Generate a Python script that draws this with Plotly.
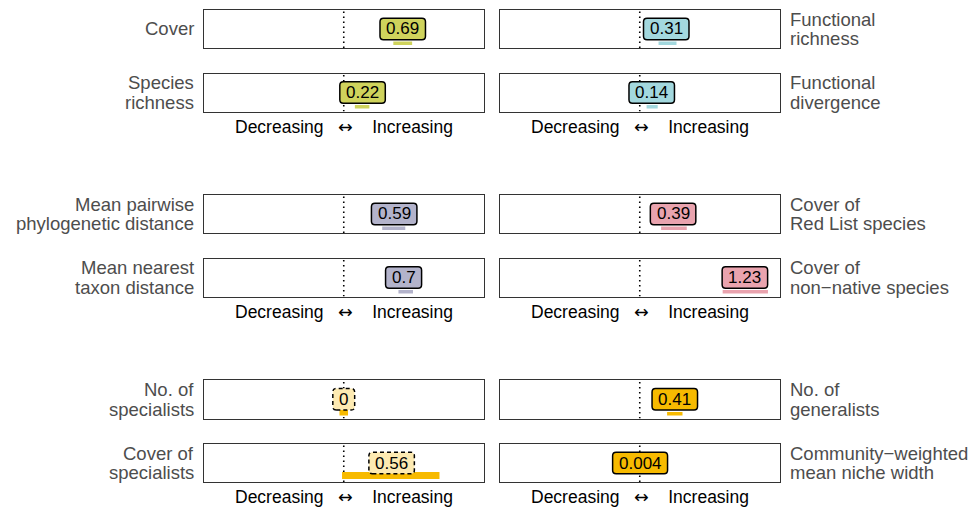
import plotly.graph_objects as go

# ---------------- data ----------------
left_names = ["Cover", "Species\nrichness", "Mean pairwise\nphylogenetic distance",
              "Mean nearest\ntaxon distance", "No. of\nspecialists", "Cover of\nspecialists"]
right_names = ["Functional\nrichness", "Functional\ndivergence", "Cover of\nRed List species",
               "Cover of\nnon\u2212native species", "No. of\ngeneralists",
               "Community\u2212weighted\nmean niche width"]

left_est = [0.69, 0.22, 0.59, 0.7, 0, 0.56]
right_est = [0.31, 0.14, 0.39, 1.23, 0.41, 0.004]

left_lo = [0.58, 0.13, 0.45, 0.64, -0.05, -0.02]
left_hi = [0.80, 0.30, 0.72, 0.81, 0.05, 1.12]
right_lo = [0.22, 0.08, 0.25, 0.97, 0.32, None]
right_hi = [0.43, 0.21, 0.55, 1.50, 0.50, None]

left_sig = [True, True, True, True, False, False]
right_sig = [True, True, True, True, True, True]

axis_title = ("Decreasing\u00a0\u00a0 <span style=\"font-family:DejaVu Sans\">\u2194</span>"
              "\u00a0\u00a0\u00a0 Increasing")

# ---------------- style ----------------
W, H = 972, 507
row_px = [(10, 48), (73.5, 111.5), (195, 233), (258.5, 296.5), (380, 418.5), (444, 482)]
col_px = [(204, 483.5), (500, 779.5)]
XR = [-1.635, 1.635]
left_colors = ["#CFD35C", "#CFD35C", "#B3B3CB", "#B3B3CB", "#F7BA00", "#F7BA00"]
right_colors = ["#A3D8DE", "#A3D8DE", "#E9A3AE", "#E9A3AE", "#F7BA00", "#F7BA00"]
left_bar_top = [6.5, 6.5, 6.5, 6.5, 10, 10]
right_bar_top = [6.5, 6.5, 6.5, 6.5, 6.5, 6.5]
NUM_FONT = 17
LAB_FONT = 18.5
FONT = "Liberation Sans, Arial, sans-serif"


def pale(hexcol, a=0.3):
    h = hexcol.lstrip("#")
    r, g, b = (int(h[i:i + 2], 16) for i in (0, 2, 4))
    return "#%02X%02X%02X" % tuple(round(a * c + (1 - a) * 255) for c in (r, g, b))


def text_w(s, size):
    widths = {".": 0.278}
    return sum(widths.get(ch, 0.556) for ch in s) * size


def rrect(hw, hh, r):
    return (f"M{-hw + r},{-hh} L{hw - r},{-hh} Q{hw},{-hh} {hw},{-hh + r} "
            f"L{hw},{hh - r} Q{hw},{hh} {hw - r},{hh} L{-hw + r},{hh} "
            f"Q{-hw},{hh} {-hw},{hh - r} L{-hw},{-hh + r} Q{-hw},{-hh} {-hw + r},{-hh} Z")


fig = go.Figure()
layout = dict(width=W, height=H, autosize=False, margin=dict(l=0, r=0, t=0, b=0),
              paper_bgcolor="white", plot_bgcolor="white", showlegend=False,
              font=dict(family=FONT))
shapes = []
annotations = []

cols = [
    (left_names, left_est, left_lo, left_hi, left_sig, left_colors, left_bar_top),
    (right_names, right_est, right_lo, right_hi, right_sig, right_colors, right_bar_top),
]

idx = 0
for c, (names, est, lo, hi, sig, colors, bartop) in enumerate(cols):
    x0p, x1p = col_px[c]
    for r in range(6):
        idx += 1
        xa = "x" if idx == 1 else f"x{idx}"
        ya = "y" if idx == 1 else f"y{idx}"
        y0p, y1p = row_px[r]
        layout["xaxis" if idx == 1 else f"xaxis{idx}"] = dict(
            domain=[x0p / W, x1p / W], range=XR, anchor=ya, showgrid=False,
            zeroline=False, showticklabels=False, ticks="", showline=True, mirror=True,
            linecolor="#333333", linewidth=1.2, fixedrange=True)
        layout["yaxis" if idx == 1 else f"yaxis{idx}"] = dict(
            domain=[1 - y1p / H, 1 - y0p / H], range=[0, 1], anchor=xa, showgrid=False,
            zeroline=False, showticklabels=False, ticks="", showline=True, mirror=True,
            linecolor="#333333", linewidth=1.2, fixedrange=True)
        fig.add_trace(go.Scatter(x=[est[r]], y=[0.5], xaxis=xa, yaxis=ya, mode="markers",
                                 marker=dict(opacity=0), hoverinfo="skip"))
        # zero line
        shapes.append(dict(type="line", xref=xa, yref=ya, x0=0, x1=0, y0=0, y1=1,
                           line=dict(color="black", width=1.6, dash="1.6px,3.4px")))
        col = colors[r]
        # interval bar
        if lo[r] is not None:
            shapes.append(dict(type="rect", xref=xa, yref=ya, x0=lo[r], x1=hi[r],
                               ysizemode="pixel", yanchor=0, y0=3, y1=bartop[r],
                               line=dict(width=0), fillcolor=col))
        # label box
        txt = f"{est[r]:g}"
        hw = text_w(txt, NUM_FONT) / 2 + 6.2
        shapes.append(dict(type="path", xref=xa, yref=ya, xsizemode="pixel",
                           ysizemode="pixel", xanchor=est[r], yanchor=0.5,
                           path=rrect(hw, 10.8, 3.5),
                           fillcolor=col if sig[r] else pale(col),
                           line=dict(color="black", width=1.5,
                                     dash="solid" if sig[r] else "4px,3px")))
        annotations.append(dict(xref=xa, yref=ya, x=est[r], y=0.5, text=txt,
                                showarrow=False, xanchor="center", yanchor="middle",
                                font=dict(size=NUM_FONT, color="black", family=FONT)))
        # side label
        lines = names[r].split("\n")
        n = len(lines)
        yc = 1 - (y0p + y1p) / 2 / H
        for k, line in enumerate(lines):
            shift = ((n - 1) / 2 - k) * 19.5
            annotations.append(dict(
                xref="paper", yref="paper",
                x=(196 / W) if c == 0 else (788 / W), y=yc, yshift=shift,
                xanchor="right" if c == 0 else "left", yanchor="middle",
                text=line, showarrow=False,
                font=dict(size=LAB_FONT, color="#4D4D4D", family=FONT)))
        # axis title under second row of each group
        if r % 2 == 1:
            annotations.append(dict(
                xref="paper", yref="paper", x=(x0p + x1p) / 2 / W, y=1 - y1p / H,
                yshift=-15, xanchor="center", yanchor="middle", text=axis_title,
                showarrow=False, font=dict(size=17.5, color="black", family=FONT)))

layout["shapes"] = shapes
layout["annotations"] = annotations
fig.update_layout(**layout)
fig.write_html("out.html", config={"displayModeBar": False},
               post_script="document.body.style.margin='0';document.body.style.padding='0';")
